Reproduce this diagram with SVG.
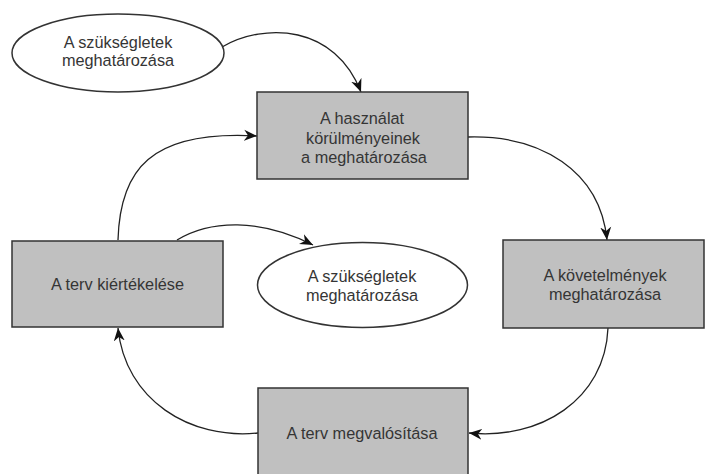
<svg xmlns="http://www.w3.org/2000/svg" width="705" height="474" viewBox="0 0 705 474">
  <style>
    .box { fill: #c0c0c0; stroke: #333333; stroke-width: 1.5; }
    .oval { fill: #ffffff; stroke: #333333; stroke-width: 1.5; }
    .lbl { font-family: "Liberation Sans", Arial, sans-serif; font-size: 16.3px; fill: #353535; text-anchor: middle; }
    .edge { fill: none; stroke: #222222; stroke-width: 1.3; marker-end: url(#arrow); }
  </style>
  <defs>
    <marker id="arrow" markerUnits="userSpaceOnUse" markerWidth="14" markerHeight="12" refX="13" refY="6" orient="auto">
      <path d="M0,0.5 L13,6 L0,11.5 L4,6 z" fill="#111111"/>
    </marker>
  </defs>
  <rect width="705" height="474" fill="#ffffff"/>

  <g id="connectors">
    <path class="edge" d="M222,47 C265,22 335,25 361,92"/>
    <path class="edge" d="M118,240 C120,170 150,130 257,136"/>
    <path class="edge" d="M468,137 C540,135 600,170 607,240"/>
    <path class="edge" d="M177,240 C210,220 260,218 313,245"/>
    <path class="edge" d="M608,328 C605,400 540,440 469,433"/>
    <path class="edge" d="M258,433 C190,440 125,400 118,328"/>
  </g>

  <g id="needs-top">
    <ellipse class="oval" cx="118" cy="53" rx="106" ry="39"/>
    <text class="lbl" x="118" y="47.5">A szükségletek</text>
    <text class="lbl" x="118" y="65.5">meghatározása</text>
  </g>

  <g id="context-of-use">
    <rect class="box" x="257" y="92" width="211" height="87"/>
    <text class="lbl" x="362" y="124">A használat</text>
    <text class="lbl" x="363" y="143.5">körülményeinek</text>
    <text class="lbl" x="364" y="163">a meghatározása</text>
  </g>

  <g id="requirements">
    <rect class="box" x="503" y="240" width="201" height="88"/>
    <text class="lbl" x="605" y="280.5">A követelmények</text>
    <text class="lbl" x="605" y="299.5">meghatározása</text>
  </g>

  <g id="needs-middle">
    <ellipse class="oval" cx="362.5" cy="285" rx="105" ry="42.5"/>
    <text class="lbl" x="362" y="281.5">A szükségletek</text>
    <text class="lbl" x="362" y="300.5">meghatározása</text>
  </g>

  <g id="evaluation">
    <rect class="box" x="12" y="241" width="211" height="86"/>
    <text class="lbl" x="117.5" y="290">A terv kiértékelése</text>
  </g>

  <g id="implementation">
    <rect class="box" x="258" y="388" width="210" height="90"/>
    <text class="lbl" x="362" y="439">A terv megvalósítása</text>
  </g>
</svg>
